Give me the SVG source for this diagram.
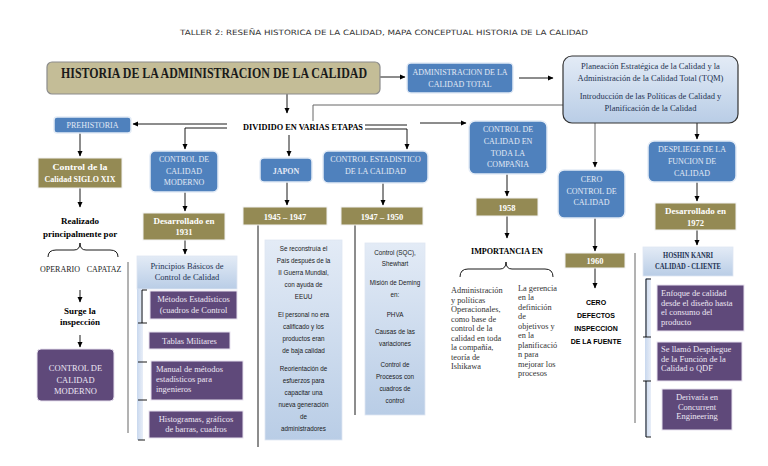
<svg xmlns="http://www.w3.org/2000/svg" width="768" height="466" viewBox="0 0 768 466">
<defs>
<linearGradient id="lb" x1="0" y1="0" x2="0" y2="1">
<stop offset="0" stop-color="#e3ebf6"/><stop offset="1" stop-color="#b9cde6"/>
</linearGradient>
<linearGradient id="lbh" x1="0" y1="0" x2="1" y2="0">
<stop offset="0" stop-color="#c9d8ee"/><stop offset="1" stop-color="#e8eef8"/>
</linearGradient>
<marker id="ah" markerWidth="6" markerHeight="6" refX="5" refY="3" orient="auto" markerUnits="userSpaceOnUse">
<path d="M0,0.5 L5.5,3 L0,5.5 Z" fill="#000"/>
</marker>
<style>
.blue{fill:#4f81bd;stroke:#e4ecf6;stroke-width:1.5}
.olive{fill:#948a54;stroke:#f2f2f2;stroke-width:1}
.purple{fill:#5f497a;stroke:#e8e2ef;stroke-width:1}
.light{fill:url(#lb);stroke:#dfe7f2;stroke-width:0.8}
.bt{font-family:"Liberation Serif",serif;font-size:8px;fill:#e3eaf5;text-anchor:middle}
.ot{font-family:"Liberation Serif",serif;font-size:8.5px;font-weight:bold;fill:#ffffff;text-anchor:middle}
.pt{font-family:"Liberation Serif",serif;font-size:8.5px;fill:#ece6f3;text-anchor:middle}
.ptl{font-family:"Liberation Serif",serif;font-size:8.5px;fill:#ece6f3}
.lt{font-family:"Liberation Serif",serif;font-size:8.5px;fill:#1f3352;text-anchor:middle}
.st{font-family:"Liberation Sans",sans-serif;font-size:6.3px;fill:#1a1a1a;text-anchor:middle}
.bk{font-family:"Liberation Serif",serif;font-size:9px;font-weight:bold;fill:#000;text-anchor:middle}
.sm{font-family:"Liberation Serif",serif;font-size:8px;fill:#222;text-anchor:middle}
.col{font-family:"Liberation Serif",serif;font-size:8.3px;fill:#333}
.ln{stroke:#000;stroke-width:0.9;fill:none}
.gl{stroke:#666;stroke-width:1;fill:none}
</style>
</defs>
<rect width="768" height="466" fill="#ffffff"/>
<text x="384" y="35" font-family="DejaVu Sans, sans-serif" font-size="7.3" fill="#333" text-anchor="middle" textLength="408" lengthAdjust="spacingAndGlyphs">TALLER 2: RESEÑA HISTORICA DE LA CALIDAD, MAPA CONCEPTUAL HISTORIA DE LA CALIDAD</text>

<g id="connectors">
<path class="ln" d="M380,77 L405,77" marker-end="url(#ah)"/>
<path class="ln" d="M519,78 L553,78" marker-end="url(#ah)"/>
<path class="gl" d="M563,105 L313,105 L313,121"/>
<path class="ln" d="M287,94 L287,113" marker-end="url(#ah)"/>
<path class="ln" d="M227,124 L133,124" marker-end="url(#ah)"/>
<path class="ln" d="M227,128 L185,128 L185,149" marker-end="url(#ah)"/>
<path class="ln" d="M289,135 L289,156" marker-end="url(#ah)"/>
<path class="ln" d="M365,125 L407,125 M365,129 L407,129 L407,149" marker-end="url(#ah)"/>
<path class="ln" d="M420,123 L466,123" marker-end="url(#ah)"/>
<path class="gl" d="M595,123 L595,167" marker-end="url(#ah)"/>
<path class="ln" d="M697,123 L697,139" marker-end="url(#ah)"/>
<path class="ln" d="M80,133 L80,156" marker-end="url(#ah)"/>
<path class="ln" d="M80,188 L80,207" marker-end="url(#ah)"/>
<path class="ln" d="M48,257 Q48,250 56,250 L74,250 Q80,250 80,243 Q80,250 86,250 L110,250 Q118,250 118,257"/>
<path class="ln" d="M80,290 L80,302" marker-end="url(#ah)"/>
<path class="ln" d="M80,335 L80,347" marker-end="url(#ah)"/>
<path class="ln" d="M185,192 L185,211" marker-end="url(#ah)"/>
<path class="ln" d="M185,240 L185,254" marker-end="url(#ah)"/>
<path class="ln" d="M287,182 L287,205" marker-end="url(#ah)"/>
<path class="ln" d="M383,183 L383,205" marker-end="url(#ah)"/>
<path class="ln" d="M258,225 L258,447"/>
<path class="ln" d="M355,225 L355,415"/>
<path class="ln" d="M507,174 L507,196" marker-end="url(#ah)"/>
<path class="ln" d="M507,216 L507,238" marker-end="url(#ah)"/>
<path class="ln" d="M460,277 Q460,269 468,269 L500,269 Q506,269 506,262 Q506,269 512,269 L545,269 Q553,269 553,277"/>
<path class="ln" d="M595,218 L595,251" marker-end="url(#ah)"/>
<path class="ln" d="M595,268 L595,288" marker-end="url(#ah)"/>
<path class="ln" d="M697,182 L697,201" marker-end="url(#ah)"/>
<path class="ln" d="M697,230 L697,245" marker-end="url(#ah)"/>
<path class="gl" d="M128,262 L128,433"/>
<path class="gl" d="M635,253 L635,423"/>
</g>

<g id="title-main">
<rect x="47" y="62" width="333" height="32" rx="5" fill="#c4bd97" stroke="#8c8c8c" stroke-width="1.2"/>
<text x="0" y="0" transform="translate(214,78) scale(1,1.22)" font-family="Liberation Serif, serif" font-size="12" font-weight="bold" fill="#1a1a1a" text-anchor="middle" textLength="306" lengthAdjust="spacingAndGlyphs">HISTORIA DE LA ADMINISTRACION DE LA CALIDAD</text>
</g>

<g id="admin-total">
<rect class="blue" x="407" y="63" width="106" height="30" rx="4"/>
<text class="bt" x="460" y="75">ADMINISTRACION DE LA</text>
<text class="bt" x="460" y="87">CALIDAD TOTAL</text>
</g>

<g id="planeacion">
<rect x="563" y="56" width="175" height="67" rx="9" fill="url(#lb)" stroke="#333" stroke-width="1.2"/>
<text class="lt" x="650.5" y="69" font-size="8.8">Planeación Estratégica de la Calidad y la</text>
<text class="lt" x="650.5" y="80.5" font-size="8.8">Administración de la Calidad Total (TQM)</text>
<text class="lt" x="650.5" y="99" font-size="8.8">Introducción de las Políticas de Calidad y</text>
<text class="lt" x="650.5" y="110.5" font-size="8.8">Planificación de la Calidad</text>
</g>

<g id="dividido">
<text class="bk" x="303" y="130" textLength="120" lengthAdjust="spacingAndGlyphs">DIVIDIDO EN VARIAS  ETAPAS</text>
</g>

<g id="prehistoria">
<rect class="blue" x="54" y="117" width="77" height="16" rx="3"/>
<text class="bt" x="92.5" y="128">PREHISTORIA</text>
</g>

<g id="siglo-xix">
<rect class="olive" x="38" y="158" width="84" height="30"/>
<text class="ot" x="80" y="170" textLength="55" lengthAdjust="spacingAndGlyphs">Control de la</text>
<text class="ot" x="80" y="182" textLength="71" lengthAdjust="spacingAndGlyphs">Calidad SIGLO XIX</text>
</g>

<g id="realizado">
<text class="bk" x="80" y="223.5">Realizado</text>
<text class="bk" x="80" y="236.5">principalmente por</text>
<text class="sm" x="60" y="272">OPERARIO</text>
<text class="sm" x="104" y="272">CAPATAZ</text>
</g>

<g id="surge">
<text class="bk" x="80" y="314" font-size="8.5">Surge la</text>
<text class="bk" x="80" y="325" font-size="8.5">inspección</text>
</g>

<g id="ccm-purple">
<rect class="purple" x="37" y="349" width="77" height="52" rx="4"/>
<text class="pt" x="75.5" y="371" font-size="8">CONTROL DE</text>
<text class="pt" x="75.5" y="383" font-size="8">CALIDAD</text>
<text class="pt" x="75.5" y="394" font-size="8">MODERNO</text>
</g>

<g id="ccm-blue">
<rect class="blue" x="150" y="151" width="68" height="41" rx="5"/>
<text class="bt" x="184" y="162">CONTROL DE</text>
<text class="bt" x="184" y="174">CALIDAD</text>
<text class="bt" x="184" y="185">MODERNO</text>
</g>

<g id="des-1931">
<rect class="olive" x="143" y="213" width="82" height="27"/>
<text class="ot" x="184" y="224" textLength="61" lengthAdjust="spacingAndGlyphs">Desarrollado en</text>
<text class="ot" x="184" y="235">1931</text>
</g>

<g id="principios">
<rect class="light" x="137" y="256" width="100" height="33"/>
<text class="lt" x="187" y="269">Principios Básicos de</text>
<text class="lt" x="187" y="280">Control de Calidad</text>
</g>

<g id="bracket-left">
<rect x="137" y="289" width="6" height="151" fill="url(#lbh)"/>
<path class="ln" d="M147,290 L142,290 L142,323 M138,323 L147,323 M138,362 L147,362 M138,400 L147,400 M138,440 L145,440" stroke-width="0.8"/>
</g>

<g id="metodos">
<rect class="purple" x="150" y="291" width="87" height="28"/>
<text class="pt" x="193.5" y="302">Métodos Estadísticos</text>
<text class="pt" x="193.5" y="313">(cuadros de Control</text>
</g>
<g id="tablas">
<rect class="purple" x="149" y="332" width="81" height="17"/>
<text class="pt" x="189.5" y="343.5">Tablas Militares</text>
</g>
<g id="manual">
<rect class="purple" x="151" y="361" width="92" height="39"/>
<text class="ptl" x="156" y="371.5">Manual de métodos</text>
<text class="ptl" x="156" y="381.5">estadísticos para</text>
<text class="ptl" x="156" y="391.5">ingenieros</text>
</g>
<g id="histogramas">
<rect class="purple" x="149" y="411" width="94" height="27"/>
<text class="pt" x="196" y="421.5">Histogramas, gráficos</text>
<text class="pt" x="196" y="432">de barras, cuadros</text>
</g>

<g id="japon">
<rect class="blue" x="260" y="158" width="52" height="24" rx="4"/>
<text class="bt" x="286" y="173.5" font-size="9" font-weight="bold">JAPON</text>
</g>
<g id="y1945">
<rect class="olive" x="243" y="207" width="84" height="18"/>
<text class="ot" x="285" y="219.5" font-size="9">1945 – 1947</text>
</g>
<g id="japon-text">
<rect class="light" x="265" y="240" width="77" height="200"/>
<text class="st" x="303.5" y="250.5">Se reconstruía el</text>
<text class="st" x="303.5" y="262.5">País después de la</text>
<text class="st" x="303.5" y="274.5">II Guerra Mundial,</text>
<text class="st" x="303.5" y="286.5">con ayuda de</text>
<text class="st" x="303.5" y="298.5">EEUU</text>
<text class="st" x="303.5" y="316.5">El personal no era</text>
<text class="st" x="303.5" y="328.5">calificado y los</text>
<text class="st" x="303.5" y="340.5">productos eran</text>
<text class="st" x="303.5" y="352.5">de baja calidad</text>
<text class="st" x="303.5" y="370.5">Reorientación de</text>
<text class="st" x="303.5" y="382.5">esfuerzos para</text>
<text class="st" x="303.5" y="394.5">capacitar una</text>
<text class="st" x="303.5" y="406.5">nueva generación</text>
<text class="st" x="303.5" y="418.5">de</text>
<text class="st" x="303.5" y="430.5">administradores</text>
</g>

<g id="control-estadistico">
<rect class="blue" x="323" y="151" width="105" height="32" rx="5"/>
<text class="bt" x="375.5" y="162">CONTROL ESTADISTICO</text>
<text class="bt" x="375.5" y="173.5">DE LA CALIDAD</text>
</g>
<g id="y1947">
<rect class="olive" x="341" y="207" width="82" height="18"/>
<text class="ot" x="382" y="219.5" font-size="9">1947 – 1950</text>
</g>
<g id="ce-text">
<rect class="light" x="365" y="243" width="60" height="172"/>
<text class="st" x="395" y="255" font-size="6.8">Control (SQC),</text>
<text class="st" x="395" y="266" font-size="6.8">Shewhart</text>
<text class="st" x="395" y="285" font-size="6.8">Misión de Deming</text>
<text class="st" x="395" y="297" font-size="6.8">en:</text>
<text class="st" x="395" y="317" font-size="6.8">PHVA</text>
<text class="st" x="395" y="334" font-size="6.8">Causas de las</text>
<text class="st" x="395" y="346" font-size="6.8">variaciones</text>
<text class="st" x="395" y="367" font-size="6.8">Control de</text>
<text class="st" x="395" y="379" font-size="6.8">Procesos con</text>
<text class="st" x="395" y="391" font-size="6.8">cuadros de</text>
<text class="st" x="395" y="403" font-size="6.8">control</text>
</g>

<g id="toda-compania">
<rect class="blue" x="469" y="121" width="78" height="53" rx="6"/>
<text class="bt" x="508" y="132">CONTROL DE</text>
<text class="bt" x="508" y="144">CALIDAD EN</text>
<text class="bt" x="508" y="156">TODA LA</text>
<text class="bt" x="508" y="167">COMPAÑIA</text>
</g>
<g id="y1958">
<rect class="olive" x="476" y="198" width="62" height="18"/>
<text class="ot" x="507" y="210.5" font-weight="normal" font-size="9">1958</text>
</g>
<g id="importancia">
<text class="bk" x="507" y="253.5" textLength="72" lengthAdjust="spacingAndGlyphs">IMPORTANCIA EN</text>
<text class="col" x="451" y="293">Administración</text>
<text class="col" x="451" y="302.5">y políticas</text>
<text class="col" x="451" y="312">Operacionales,</text>
<text class="col" x="451" y="321.5">como base de</text>
<text class="col" x="451" y="331">control de la</text>
<text class="col" x="451" y="340.5">calidad en toda</text>
<text class="col" x="451" y="350">la compañía,</text>
<text class="col" x="451" y="359.5">teoría de</text>
<text class="col" x="451" y="369">Ishikawa</text>
<text class="col" x="518" y="290.5">La gerencia</text>
<text class="col" x="518" y="300">en la</text>
<text class="col" x="518" y="309.5">definición</text>
<text class="col" x="518" y="319">de</text>
<text class="col" x="518" y="328.5">objetivos y</text>
<text class="col" x="518" y="338">en la</text>
<text class="col" x="518" y="347.5">planificació</text>
<text class="col" x="518" y="357">n para</text>
<text class="col" x="518" y="366.5">mejorar los</text>
<text class="col" x="518" y="376">procesos</text>
</g>

<g id="cero-control">
<rect class="blue" x="558" y="170" width="67" height="48" rx="6"/>
<text class="bt" x="591.5" y="182">CERO</text>
<text class="bt" x="591.5" y="194">CONTROL DE</text>
<text class="bt" x="591.5" y="205">CALIDAD</text>
</g>
<g id="y1960">
<rect class="olive" x="565" y="253" width="60" height="15"/>
<text class="ot" x="595" y="263.5" font-weight="normal" font-size="8.5">1960</text>
</g>
<g id="cero-defectos">
<text x="596" y="305" font-family="Liberation Sans, sans-serif" font-size="7" font-weight="bold" text-anchor="middle">CERO</text>
<text x="596" y="318" font-family="Liberation Sans, sans-serif" font-size="7" font-weight="bold" text-anchor="middle">DEFECTOS</text>
<text x="596" y="331" font-family="Liberation Sans, sans-serif" font-size="7" font-weight="bold" text-anchor="middle">INSPECCION</text>
<text x="596" y="344" font-family="Liberation Sans, sans-serif" font-size="7" font-weight="bold" text-anchor="middle">DE LA FUENTE</text>
</g>

<g id="despliegue">
<rect class="blue" x="648" y="141" width="88" height="41" rx="6"/>
<text class="bt" x="692" y="152">DESPLIEGE DE LA</text>
<text class="bt" x="692" y="164">FUNCION DE</text>
<text class="bt" x="692" y="176">CALIDAD</text>
</g>
<g id="des-1972">
<rect class="olive" x="655" y="203" width="81" height="27"/>
<text class="ot" x="695.5" y="214" textLength="61" lengthAdjust="spacingAndGlyphs">Desarrollado en</text>
<text class="ot" x="695.5" y="225.5">1972</text>
</g>
<g id="hoshin">
<rect class="light" x="643" y="247" width="90" height="29"/>
<text class="lt" x="688" y="258" font-size="7.2" font-weight="bold" textLength="50" lengthAdjust="spacingAndGlyphs">HOSHIN KANRI</text>
<text class="lt" x="688" y="269" font-size="7.2" font-weight="bold" textLength="66" lengthAdjust="spacingAndGlyphs">CALIDAD - CLIENTE</text>
</g>
<g id="bracket-right">
<rect x="645" y="278" width="6" height="159" fill="url(#lbh)"/>
<path class="ln" d="M651,279 L646,279 L646,337 M643,337 L651,337 M646,381 L646,437 L651,437 M643,381 L651,381" stroke-width="0.8"/>
</g>
<g id="enfoque">
<rect class="purple" x="657" y="285" width="87" height="46"/>
<text class="ptl" x="661" y="296">Enfoque de calidad</text>
<text class="ptl" x="661" y="305.5">desde el diseño hasta</text>
<text class="ptl" x="661" y="315">el consumo del</text>
<text class="ptl" x="661" y="324.5">producto</text>
</g>
<g id="se-llamo">
<rect class="purple" x="657" y="342" width="85" height="39"/>
<text class="ptl" x="661" y="352">Se llamó Despliegue</text>
<text class="ptl" x="661" y="361.5">de la Función de la</text>
<text class="ptl" x="661" y="371">Calidad o QDF</text>
</g>
<g id="derivaria">
<rect class="purple" x="662" y="389" width="70" height="41"/>
<text class="pt" x="697" y="400">Derivaría en</text>
<text class="pt" x="697" y="409.5">Concurrent</text>
<text class="pt" x="697" y="419">Engineering</text>
</g>
</svg>
